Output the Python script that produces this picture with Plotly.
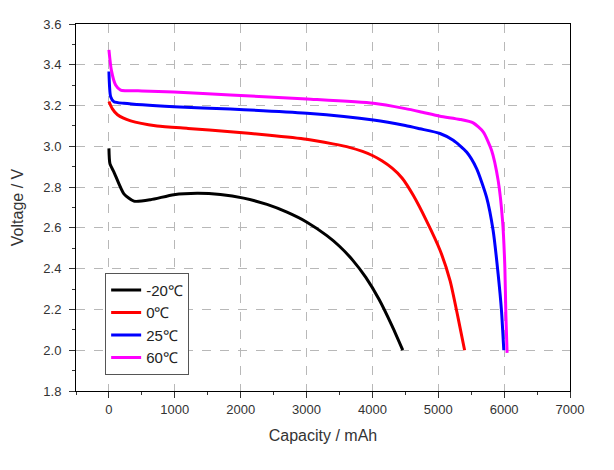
import plotly.graph_objects as go

# ---- data ----
cap_m20 = [0, 15, 76, 227, 379, 632, 985, 1339, 1692, 2045, 2400, 2703, 3006, 3309, 3500, 3700, 3900, 4100, 4300, 4461]
v_m20 = [2.99, 2.915, 2.874, 2.767, 2.731, 2.738, 2.763, 2.770, 2.764, 2.746, 2.715, 2.677, 2.628, 2.562, 2.510, 2.442, 2.357, 2.250, 2.118, 2.0]

cap_0 = [0, 50, 130, 330, 730, 1200, 1844, 2400, 3000, 3400, 3650, 3850, 4000, 4150, 4300, 4450, 4620, 4820, 5030, 5180, 5300, 5400]
v_0 = [3.22, 3.185, 3.155, 3.125, 3.100, 3.088, 3.072, 3.056, 3.035, 3.012, 2.995, 2.975, 2.955, 2.928, 2.893, 2.845, 2.760, 2.636, 2.488, 2.340, 2.160, 2.0]

cap_25 = [0, 26, 76, 227, 985, 1844, 3006, 4015, 4500, 4723, 5026, 5227, 5430, 5582, 5733, 5833, 5909, 5960, 5995]
v_25 = [3.367, 3.243, 3.219, 3.211, 3.194, 3.183, 3.162, 3.129, 3.102, 3.086, 3.063, 3.030, 2.972, 2.891, 2.751, 2.587, 2.373, 2.193, 2.0]

cap_60 = [0, 36, 101, 177, 500, 985, 1844, 3006, 4015, 4500, 4723, 5026, 5329, 5530, 5682, 5809, 5909, 5976, 6011, 6026, 6045]
v_60 = [3.473, 3.375, 3.301, 3.276, 3.272, 3.266, 3.252, 3.232, 3.211, 3.185, 3.170, 3.148, 3.132, 3.115, 3.071, 2.981, 2.833, 2.636, 2.406, 2.176, 1.987]

series_names = ["-20℃", "0℃", "25℃", "60℃"]
series_x = [cap_m20, cap_0, cap_25, cap_60]
series_y = [v_m20, v_0, v_25, v_60]
series_colors = ["#000000", "#ff0000", "#0000ff", "#ff00ff"]

x_ticks = [0, 1000, 2000, 3000, 4000, 5000, 6000, 7000]
y_ticks = [1.8, 2.0, 2.2, 2.4, 2.6, 2.8, 3.0, 3.2, 3.4, 3.6]

fig = go.Figure()
for name, xs, ys, col in zip(series_names, series_x, series_y, series_colors):
    fig.add_trace(go.Scatter(x=xs, y=ys, mode="lines", name=name,
                             line=dict(color=col, width=3, shape="spline", smoothing=0.6)))

font_family = "Liberation Sans, Arial, sans-serif"
axis_common = dict(
    showline=True, linecolor="#000000", linewidth=1, mirror=True,
    ticks="outside", ticklen=6, tickwidth=1, tickcolor="#333333",
    showgrid=True, gridcolor="#b8b8b8", griddash="dash", gridwidth=1,
    zeroline=False,
    tickfont=dict(family=font_family, size=13, color="#333333"),
)

fig.update_xaxes(
    range=[-500, 7000], tickvals=x_ticks, ticktext=[str(v) for v in x_ticks],
    title=dict(text="Capacity / mAh", font=dict(family=font_family, size=16, color="#333333"), standoff=14),
    minor=dict(ticks="outside", ticklen=3, tickcolor="#333333", dtick=500, tick0=0, showgrid=False),
    automargin=True,
    **axis_common,
)
fig.update_yaxes(
    range=[1.8, 3.6], tickvals=y_ticks, ticktext=[f"{v:.1f}" for v in y_ticks],
    title=dict(text="Voltage / V", font=dict(family=font_family, size=16, color="#333333")),
    minor=dict(ticks="outside", ticklen=3, tickcolor="#333333", dtick=0.1, tick0=1.8, showgrid=False),
    automargin=False, ticklabelstandoff=5,
    **axis_common,
)

fig.update_layout(
    width=614, height=470,
    margin=dict(l=68, r=52, t=16, b=87),
    paper_bgcolor="white", plot_bgcolor="white",
    showlegend=True,
    legend=dict(
        x=0.059, y=0.322, xanchor="left", yanchor="top",
        bgcolor="white", bordercolor="#555555", borderwidth=1,
        font=dict(family=font_family, size=15, color="#222222"),
        tracegroupgap=0, itemwidth=30,
    ),
)

fig.write_html("out.html")
